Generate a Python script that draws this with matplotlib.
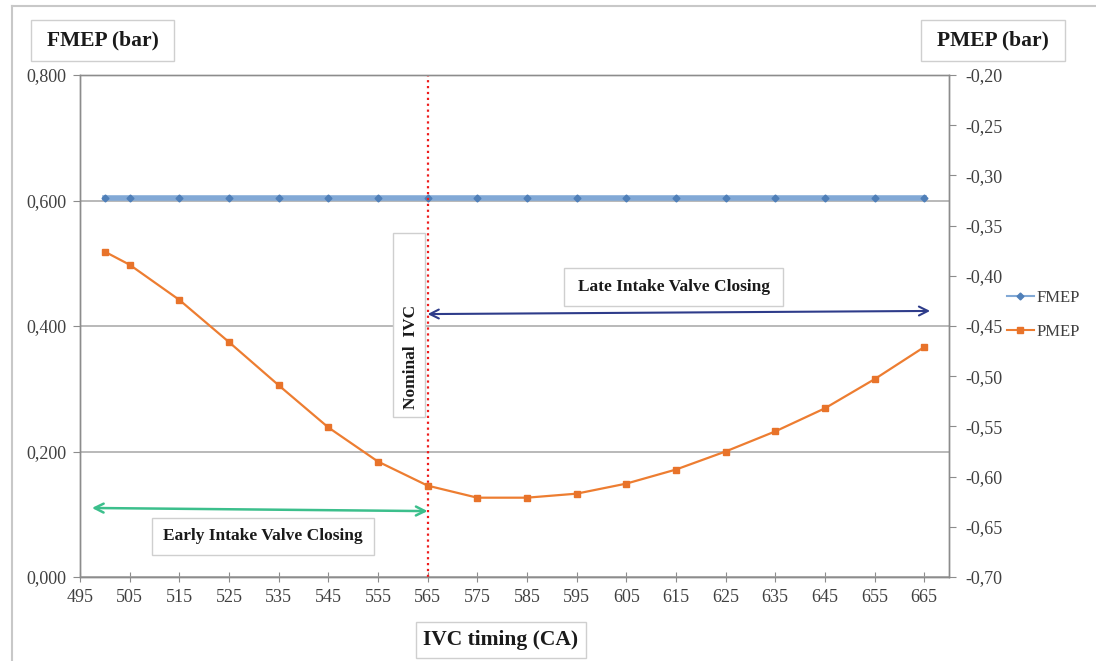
import numpy as np
import matplotlib
matplotlib.use("Agg")
import matplotlib.pyplot as plt
from matplotlib.patches import Rectangle
from matplotlib.lines import Line2D

# IVC timing (crank angle) and engine mean effective pressures
ivc = [500, 505, 515, 525, 535, 545, 555, 565, 575, 585,
       595, 605, 615, 625, 635, 645, 655, 665]
fmep = [0.604] * len(ivc)
pmep = [-0.376, -0.389, -0.424, -0.466, -0.509, -0.551, -0.585, -0.609, -0.621,
        -0.621, -0.617, -0.607, -0.593, -0.575, -0.555, -0.532, -0.503, -0.471]

x_ticks = list(range(495, 666, 10))
fmep_ticks = [0.0, 0.2, 0.4, 0.6, 0.8]
fmep_labels = ['0,000', '0,200', '0,400', '0,600', '0,800']
pmep_ticks = [-0.70, -0.65, -0.60, -0.55, -0.50, -0.45, -0.40, -0.35, -0.30, -0.25, -0.20]
pmep_labels = ['-0,70', '-0,65', '-0,60', '-0,55', '-0,50', '-0,45',
               '-0,40', '-0,35', '-0,30', '-0,25', '-0,20']
nominal_ivc = 565

plt.rcParams['font.family'] = ['Liberation Serif', 'DejaVu Serif']

W, H = 1096, 661
fig = plt.figure(figsize=(W / 100, H / 100), dpi=100)
fig.patch.set_facecolor('white')

ax = fig.add_axes([80 / W, 1 - 577 / H, (949 - 80) / W, (577 - 75) / H])
ax2 = ax.twinx()

axis_grey = '#8c8c8c'
tick_col = '#404040'

# FMEP on the primary axis
l_fmep, = ax.plot(ivc, fmep, color='#82a9d6', lw=4, marker='D', ms=3.5,
                  mfc='#4f7fb8', mec='#4f7fb8', label='FMEP', zorder=3)
ax.axvline(nominal_ivc, color='#ee1c1c', ls=':', lw=1.6, zorder=4)

# PMEP on the secondary axis
l_pmep, = ax2.plot(ivc, pmep, color='#ed7d31', lw=1.6, marker='s', ms=5,
                   mfc='#e8732a', mec='#e8732a', label='PMEP', zorder=3)

ax.set_xlim(495, 670)
ax.set_ylim(0, 0.8)
ax2.set_ylim(-0.70, -0.20)
ax.set_xticks(x_ticks)
ax.set_xticklabels([str(t) for t in x_ticks])
ax.set_yticks(fmep_ticks)
ax.set_yticklabels(fmep_labels)
ax2.set_yticks(pmep_ticks)
ax2.set_yticklabels(pmep_labels)

ax.grid(axis='y', color='#a6a6a6', lw=1.1)
ax.set_axisbelow(True)
for a in (ax, ax2):
    for s in a.spines.values():
        s.set_color(axis_grey)
        s.set_linewidth(1.0)
ax.spines['top'].set_color('#a6a6a6')

ax.tick_params(axis='x', direction='inout', length=7, color=axis_grey,
               labelsize=13, labelcolor=tick_col, pad=5)
ax.tick_params(axis='y', direction='out', length=5, color=axis_grey,
               labelsize=13, labelcolor=tick_col, pad=5)
ax2.tick_params(axis='y', direction='out', length=5, color=axis_grey,
                labelsize=13, labelcolor=tick_col, pad=7)

# region arrows
ax.annotate('', xy=(666.2, 0.424), xytext=(nominal_ivc, 0.419),
            arrowprops=dict(arrowstyle='<->', color='#2e3c8a', lw=1.5,
                            mutation_scale=16, shrinkA=0, shrinkB=0), zorder=5)
ax.annotate('', xy=(497.4, 0.110), xytext=(nominal_ivc, 0.105),
            arrowprops=dict(arrowstyle='<->', color='#3cbf8c', lw=1.8,
                            mutation_scale=16, shrinkA=0, shrinkB=0), zorder=5)


def boxed(x0, y0, x1, y1, s, size, tx=None, ty=None, rot=0, ha='center', va='center'):
    fig.add_artist(Rectangle((x0 / W, 1 - y1 / H), (x1 - x0) / W, (y1 - y0) / H,
                             transform=fig.transFigure, facecolor='white',
                             edgecolor='#cfcfcf', lw=1.0, zorder=6))
    if tx is None:
        tx = (x0 + x1) / 2
    if ty is None:
        ty = (y0 + y1) / 2
    fig.text(tx / W, 1 - ty / H, s, fontsize=size, fontweight='bold',
             color='#1a1a1a', rotation=rot, ha=ha, va=va, zorder=7)


boxed(31, 20, 174, 61, 'FMEP (bar)', 15.5)
boxed(921, 20, 1065, 61, 'PMEP (bar)', 15.5)
boxed(416, 622, 586, 658, 'IVC timing (CA)', 15.5)
boxed(564, 268, 783, 306, 'Late Intake Valve Closing', 12.5)
boxed(152, 518, 374, 555, 'Early Intake Valve Closing', 12.5)
boxed(393, 233, 425, 417, 'Nominal  IVC', 12.5, tx=411, ty=409, rot=90, va='bottom')

leg = fig.legend(handles=[l_fmep, l_pmep], labels=['FMEP', 'PMEP'],
                 loc='center left', bbox_to_anchor=(1007 / W, 1 - 315 / H),
                 frameon=False, fontsize=12, handlelength=1.6,
                 handletextpad=0.15, labelspacing=1.1,
                 borderpad=0, borderaxespad=0)
for t in leg.get_texts():
    t.set_color(tick_col)
for h in leg.get_lines():
    h.set_linewidth(1.5)

# outer chart frame (left and top edges)
fig.add_artist(Line2D([12 / W, 12 / W], [0, 1 - 6 / H], transform=fig.transFigure,
                      color='#c8c8c8', lw=1.5))
fig.add_artist(Line2D([12 / W, 1], [1 - 6 / H, 1 - 6 / H], transform=fig.transFigure,
                      color='#c8c8c8', lw=1.5))

fig.savefig('out.png', dpi=100)
